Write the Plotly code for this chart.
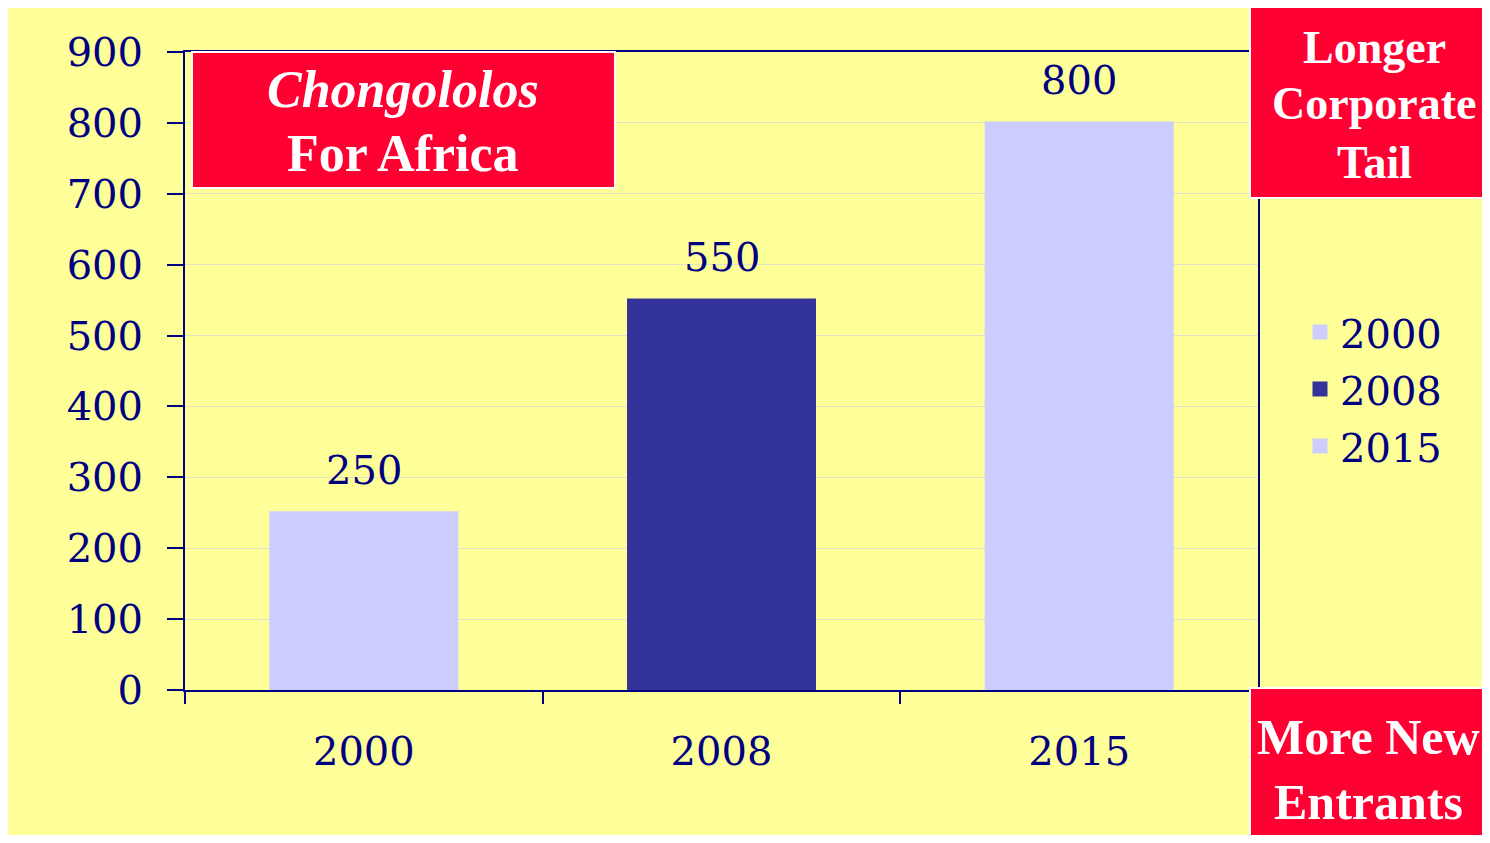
import plotly.graph_objects as go

# ---- data ----
categories = ["2000", "2008", "2015"]
values = [250, 550, 800]
bar_colors = ["#CCCCFF", "#333399", "#CCCCFF"]
y_ticks = [0, 100, 200, 300, 400, 500, 600, 700, 800, 900]
title_lines = ["<i>Chongololos</i>", "For Africa"]
top_right_lines = ["Longer", "Corporate", "Tail"]
bottom_right_lines = ["More New", "Entrants"]

# ---- geometry ----
# The page body has an 8px margin, so the figure is sized to fit the window exactly.
OFF = 8
W, H = 1490 - 2 * OFF, 843 - 2 * OFF
# plot area in page pixels
L, R, T, B = 185, 1258, 52, 690
Lf, Rf, Tf, Bf = L - OFF, R - OFF, T - OFF, B - OFF


def px(x):
    return (x - L) / (R - L)


def py(y):
    return (B - y) / (B - T)


NAVY = "#000080"
RED = "#FF0033"
YELLOW = "#FFFF99"
AXFONT = dict(family="DejaVu Serif", size=40, color=NAVY)

fig = go.Figure()
for i, (c, v, col) in enumerate(zip(categories, values, bar_colors)):
    fig.add_trace(go.Bar(x=[c], y=[v], name=c, legendgroup="g%d" % i,
                         marker=dict(color=col, line=dict(width=3, color=col))))
    fig.add_annotation(x=i, y=v, xref="x", yref="y", text=str(v), showarrow=False,
                       yanchor="middle", yshift=43, font=AXFONT)

shapes = [
    dict(type="rect", xref="paper", yref="paper", x0=px(192), x1=px(615), y0=py(188), y1=py(52),
         fillcolor=RED, line=dict(color="white", width=2), layer="above"),
    dict(type="rect", xref="paper", yref="paper", x0=px(1250), x1=px(1510), y0=py(198), y1=py(6),
         fillcolor=RED, line=dict(color="white", width=2), layer="above"),
    dict(type="rect", xref="paper", yref="paper", x0=px(1250), x1=px(1510), y0=py(870), y1=py(688),
         fillcolor=RED, line=dict(color="white", width=2), layer="above"),
]


def box_text(lines, cx, cys, size):
    for t, cy in zip(lines, cys):
        fig.add_annotation(x=px(cx), y=py(cy), xref="paper", yref="paper", text="<b>%s</b>" % t,
                           showarrow=False, xanchor="center", yanchor="middle",
                           font=dict(family="Liberation Serif", size=size, color="white"))


box_text(title_lines, 403, [90, 154], 52)
box_text(top_right_lines, 1374, [47, 103, 162], 46)
box_text(bottom_right_lines, 1368, [737, 802], 50)

fig.update_layout(
    width=W, height=H,
    margin=dict(l=Lf, r=W - Rf, t=Tf, b=H - Bf, pad=0),
    paper_bgcolor=YELLOW, plot_bgcolor=YELLOW,
    barmode="overlay", bargap=0.48,
    shapes=shapes,
    showlegend=True,
    legend=dict(x=px(1300), y=py(389), xanchor="left", yanchor="middle",
                font=AXFONT, bgcolor="rgba(0,0,0,0)", tracegroupgap=2,
                itemclick=False),
    xaxis=dict(type="category", categoryorder="array", categoryarray=categories,
               range=[-0.5, 2.5],
               showline=True, linecolor=NAVY, linewidth=2, mirror=True,
               ticks="outside", tickson="boundaries", ticklen=12, tickwidth=2, tickcolor=NAVY,
               tickfont=AXFONT, showgrid=False, ticklabelstandoff=25),
    yaxis=dict(range=[0, 900], tickvals=y_ticks, showline=True, linecolor=NAVY, linewidth=2,
               mirror=True, ticks="outside", ticklen=16, tickwidth=2, tickcolor=NAVY,
               tickfont=AXFONT, showgrid=True, gridcolor="#E2E2C8", gridwidth=1,
               zeroline=False, ticklabelstandoff=16),
)

fig.write_html("out.html")
